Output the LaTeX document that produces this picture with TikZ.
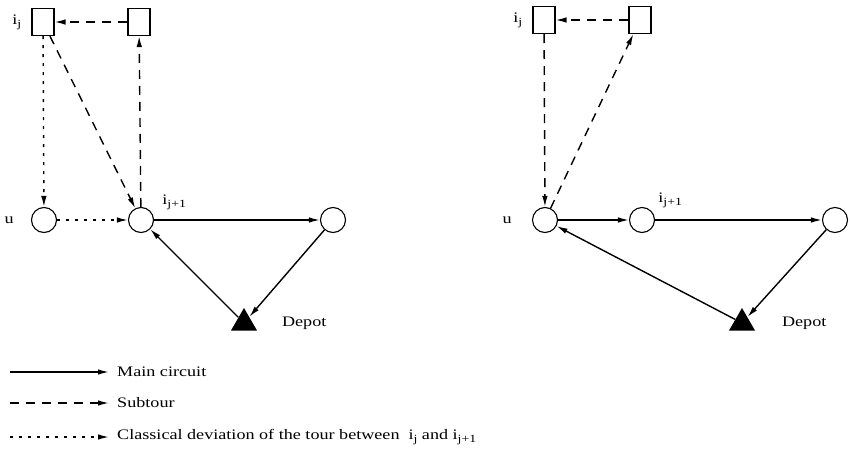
\documentclass[tikz,border=0pt]{standalone}
\usepackage{fontspec}
\setmainfont{Liberation Serif}[FakeStretch=1.25]
\usepackage{tikz}
\usetikzlibrary{positioning, shapes.geometric, arrows.meta}

\newcommand{\lowsub}[1]{\raisebox{-0.45ex}{\fontsize{11}{13}\selectfont #1}}

\begin{document}
\begin{tikzpicture}[
    x=1pt,
    y=1pt,
    font=\fontsize{14.5}{17}\selectfont,
    mainarrow/.style={-{Latex[length=11pt, width=5.5pt]}, line width=1.4pt},
    subtourarrow/.style={mainarrow, dash pattern=on 9pt off 7pt},
    deviationarrow/.style={mainarrow, dash pattern=on 3pt off 6pt},
    customer/.style={
        circle,
        draw,
        line width=1.1pt,
        minimum size=25pt,
        inner sep=0pt
    },
    stopbox/.style={
        rectangle,
        draw,
        line width=1.1pt,
        minimum width=22pt,
        minimum height=27pt,
        inner sep=0pt
    },
    depot/.style={
        regular polygon,
        regular polygon sides=3,
        fill=black,
        minimum size=30pt,
        inner sep=0pt
    },
    tag/.style={inner sep=1pt},
    legendtext/.style={anchor=west, inner sep=4pt}
]

\useasboundingbox (0,0) rectangle (850,-463);

%% LEFT SIDE - classical deviation %%
\node (lij) [stopbox] at (43,-22) {};
\node (lnext) [stopbox] at (139,-22) {};
\node (lu) [customer] at (44,-220) {};
\node (lsucc) [customer] at (141,-220) {};
\node (lfar) [customer] at (333,-220) {};
\node (ldepot) [depot] at (244,-323) {};

\node (lij_tag) [tag, left=9pt of lij] {i\lowsub{j}};
\node (lu_tag) [tag, left=16pt of lu] {u};
\node (lsucc_tag) [tag, above right=0pt and 11pt of lsucc] {i\lowsub{j+1}};
\node (ldepot_tag) [tag, right=28pt of ldepot] {Depot};

%% RIGHT SIDE - subtour inserted at u %%
\node (rij) [stopbox] at (544,-20) {};
\node (rnext) [stopbox] at (640,-20) {};
\node (ru) [customer] at (545,-220) {};
\node (rsucc) [customer] at (642,-220) {};
\node (rfar) [customer] at (835,-220) {};
\node (rdepot) [depot] at (742,-323) {};

\node (rij_tag) [tag, left=9pt of rij] {i\lowsub{j}};
\node (ru_tag) [tag, left=19pt of ru] {u};
\node (rsucc_tag) [tag, above right=2pt and 6pt of rsucc] {i\lowsub{j+1}};
\node (rdepot_tag) [tag, right=30pt of rdepot] {Depot};

%% LEGEND %%
\coordinate (mainstart) at (10,-372);
\coordinate (subtourstart) at (10,-403);
\coordinate (deviationstart) at (10,-437);
\node (maintext) [legendtext] at (113,-372) {Main circuit};
\node (subtourtext) [legendtext] at (113,-403) {Subtour};
\node (deviationtext) [legendtext] at (113,-437)
    {Classical deviation of the tour between\hspace{9pt}i\lowsub{j} and i\lowsub{j+1}};

%% ARROWS %%
\draw [subtourarrow] (lnext) -- (lij);
\draw [subtourarrow] (lij) -- (lsucc);
\draw [subtourarrow] (lsucc) -- (lnext);
\draw [deviationarrow] (lij) -- (lu);
\draw [deviationarrow] (lu) -- (lsucc);
\draw [mainarrow] (lsucc) -- (lfar);
\draw [mainarrow] (lfar) -- (ldepot);
\draw [mainarrow] (ldepot) -- (lsucc);

\draw [subtourarrow] (rnext) -- (rij);
\draw [subtourarrow] (rij) -- (ru);
\draw [subtourarrow] (ru) -- (rnext);
\draw [mainarrow] (ru) -- (rsucc);
\draw [mainarrow] (rsucc) -- (rfar);
\draw [mainarrow] (rfar) -- (rdepot);
\draw [mainarrow] (rdepot) -- (ru);

\draw [mainarrow, shorten >=4pt] (mainstart) -- (maintext);
\draw [subtourarrow, shorten >=4pt] (subtourstart) -- (subtourtext);
\draw [deviationarrow, shorten >=4pt] (deviationstart) -- (deviationtext);

\end{tikzpicture}
\end{document}
